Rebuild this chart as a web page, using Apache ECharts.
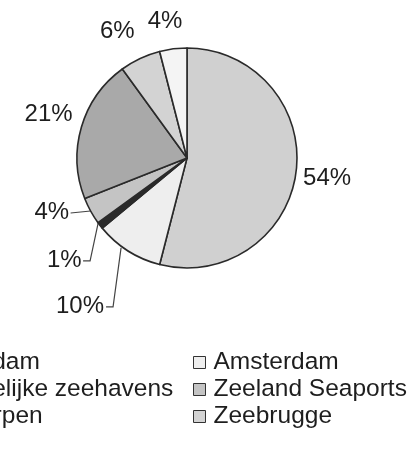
<!DOCTYPE html>
<html><head><meta charset="utf-8">
<script src="https://cdn.jsdelivr.net/npm/echarts@6/dist/echarts.min.js"></script>
<style>html,body{margin:0;padding:0;background:#fff}#c{width:411px;height:451px}</style>
</head><body><div id="c"></div>
<script>
// ---- data ----
const ports = ['Rotterdam', 'Amsterdam', 'Noordelijke zeehavens', 'Zeeland Seaports', 'Antwerpen', 'Zeebrugge', 'Gent'];
const shares = [54, 10, 1, 4, 21, 6, 4];
const legendLeftNames = ['Rotterdam', 'Noordelijke zeehavens', 'Antwerpen'];
const legendRightNames = ['Amsterdam', 'Zeeland Seaports', 'Zeebrugge'];

// ---- style ----
const sliceColors = ['#d0d0d0', '#eeeeee', '#2a2a2a', '#c4c4c4', '#a9a9a9', '#d3d3d3', '#f4f4f4'];
const showLine = [false, true, true, true, false, false, false];
// offsets for labels without leader line (relative to default outside position)
const labelShift = [[-4, 6], null, null, null, [2, -11], [2, -22], [15, -22]];
// leader line offsets relative to the library's edge anchor point
const lineShape = [null,
  { pts: [[-7, -3], [-15, 56], [-22, 56]], lab: [-24, 55.5] },
  { pts: [[-2, -2], [-10, 35.5], [-17, 35.5]], lab: [-18.5, 35] },
  { pts: [[0, 0], [-20, 2]], lab: [-21.5, 1.5] },
  null, null, null];

const FONT = "'Liberation Sans', Arial, Helvetica, sans-serif";
const TXT = '#1e1e1e';

const chart = echarts.init(document.getElementById('c'), null, { renderer: 'canvas' });

const pieData = ports.map((n, i) => ({
  name: n,
  value: shares[i],
  itemStyle: { color: sliceColors[i] },
  labelLine: { show: showLine[i] }
}));

const legendCommon = {
  orient: 'vertical',
  top: 350,
  padding: 0,
  itemWidth: 12,
  itemHeight: 12,
  itemGap: 2,
  icon: 'rect',
  itemStyle: { borderColor: '#333', borderWidth: 1 },
  textStyle: { fontSize: 24.5, color: TXT, fontFamily: FONT, padding: [0, 0, 0, 3] },
  selectedMode: false
};

chart.setOption({
  animation: false,
  backgroundColor: '#fff',
  legend: [
    Object.assign({ left: -95, data: legendLeftNames }, legendCommon),
    Object.assign({ left: 193, data: legendRightNames }, legendCommon)
  ],
  series: [{
    type: 'pie',
    center: [187, 158],
    radius: 110,
    startAngle: 90,
    clockwise: true,
    avoidLabelOverlap: false,
    data: pieData,
    itemStyle: { borderColor: '#2a2a2a', borderWidth: 1.6 },
    label: {
      show: true,
      position: 'outside',
      formatter: '{c}%',
      fontSize: 24,
      color: TXT,
      fontFamily: FONT
    },
    labelLine: { length: 6, length2: 0, smooth: false, lineStyle: { color: '#444', width: 1.2 } },
    labelLayout: function (p) {
      const i = p.dataIndex;
      const ls = lineShape[i];
      if (ls && p.labelLinePoints && p.labelLinePoints.length) {
        const a = p.labelLinePoints[0];
        return {
          x: a[0] + ls.lab[0],
          y: a[1] + ls.lab[1],
          align: 'right',
          verticalAlign: 'middle',
          labelLinePoints: ls.pts.map(d => [a[0] + d[0], a[1] + d[1]])
        };
      }
      const s = labelShift[i] || [0, 0];
      return { dx: s[0], dy: s[1] };
    },
    emphasis: { disabled: true }
  }]
});
</script></body></html>
